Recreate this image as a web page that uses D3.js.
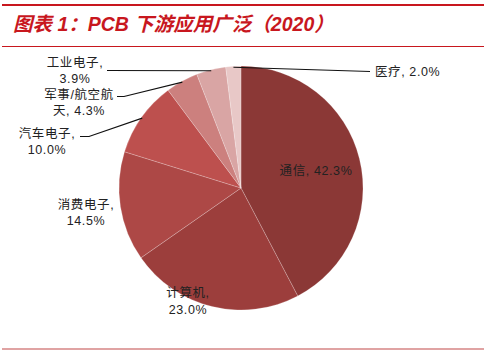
<!DOCTYPE html>
<html><head><meta charset="utf-8">
<script src="https://cdn.jsdelivr.net/npm/d3@7"></script>
<style>body{margin:0;background:#fff}svg{display:block}</style>
</head><body>
<script>
const categories = ["通信", "计算机", "消费电子", "汽车电子", "军事/航空航天", "工业电子", "医疗"];
const values = [42.3, 23.0, 14.5, 10.0, 4.3, 3.9, 2.0];
const colors = ["#8b3836", "#9c3e3c", "#ad4846", "#bd504e", "#cc807e", "#d9a5a4", "#e8c8c7"];
const titleText = "图表 1：PCB 下游应用广泛（2020）";

const W = 487, H = 360;
const cx = 241, cy = 188, R = 122;
const svg = d3.select("body").append("svg").attr("width", W).attr("height", H);

// frame lines
svg.append("line").attr("x1", 2).attr("x2", 484).attr("y1", 5).attr("y2", 5).attr("stroke", "#c8171e").attr("stroke-width", 2.2);
svg.append("line").attr("x1", 2).attr("x2", 484).attr("y1", 46.5).attr("y2", 46.5).attr("stroke", "#c8171e").attr("stroke-width", 1);
svg.append("line").attr("x1", 2).attr("x2", 484).attr("y1", 349).attr("y2", 349).attr("stroke", "#e0a3a3").attr("stroke-width", 2);

svg.append("text").attr("x", 13).attr("y", 31)
  .attr("font-family", "'Liberation Sans','Noto Sans CJK SC',sans-serif")
  .attr("font-size", 19.5).attr("font-weight", "bold").attr("font-style", "italic")
  .attr("fill", "#c8171e").text(titleText);

const data = categories.map((c, i) => ({ name: c, value: values[i], color: colors[i] }));
const pie = d3.pie().value(d => d.value).sort(null);
const arcs = pie(data);
const arc = d3.arc().innerRadius(0).outerRadius(R);
const g = svg.append("g").attr("transform", `translate(${cx},${cy})`);
g.selectAll("path").data(arcs).join("path")
  .attr("d", arc).attr("fill", d => d.data.color)
  .attr("stroke", "#ffffff").attr("stroke-opacity", 0.35).attr("stroke-width", 0.6);

// labels (layout positions)
const labelLayout = {
  "通信": { lines: ["通信, 42.3%"], x: 316, y: 175, anchor: "middle" },
  "计算机": { lines: ["计算机,", "23.0%"], x: 188, y: 297, anchor: "middle" },
  "消费电子": { lines: ["消费电子,", "14.5%"], x: 86, y: 208.5, anchor: "middle" },
  "汽车电子": { lines: ["汽车电子,", "10.0%"], x: 47, y: 137.5, anchor: "middle", lead: [[89, 136.5], [80, 136.5]] },
  "军事/航空航天": { lines: ["军事/航空航", "天, 4.3%"], x: 79, y: 98.5, anchor: "middle", lead: [[124, 96.5], [117, 96.5]] },
  "工业电子": { lines: ["工业电子,", "3.9%"], x: 75, y: 66.5, anchor: "middle", lead: [[107, 70.5]] },
  "医疗": { lines: ["医疗, 2.0%"], x: 375, y: 76, anchor: "start", lead: [[370, 71.5]] }
};

const lab = svg.append("g").attr("font-family", "'Liberation Sans','Noto Sans CJK SC',sans-serif")
  .attr("font-size", 12.5).attr("letter-spacing", 0.6).attr("fill", "#222");
arcs.forEach(a => {
  const L = labelLayout[a.data.name];
  const t = lab.append("text").attr("x", L.x).attr("y", L.y).attr("text-anchor", L.anchor);
  L.lines.forEach((s, i) => t.append("tspan").attr("x", L.x).attr("dy", i === 0 ? 0 : 16.5).text(s));
  if (L.lead) {
    const mid = (a.startAngle + a.endAngle) / 2;
    const p0 = [cx + Math.sin(mid) * (R - 1), cy - Math.cos(mid) * (R - 1)];
    const pts = [p0, ...L.lead];
    svg.append("path").attr("d", d3.line()(pts)).attr("fill", "none").attr("stroke", "#111").attr("stroke-width", 1.1);
  }
});
</script>
</body></html>
